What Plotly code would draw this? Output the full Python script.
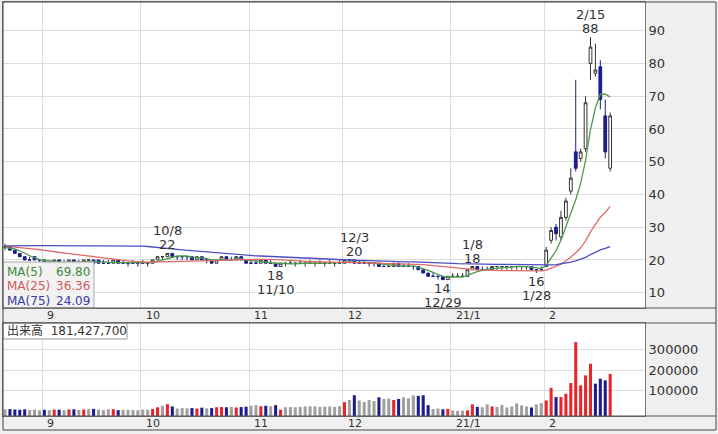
import pandas as pd
import plotly.graph_objects as go

# ---------------- data ----------------
HOLIDAYS = ["2020-09-21", "2020-09-22", "2020-11-03", "2020-11-23",
            "2020-12-31", "2021-01-01", "2021-01-11", "2021-02-11"]
dates = [d for d in pd.bdate_range("2020-08-20", "2021-02-19")
         if d.strftime("%Y-%m-%d") not in HOLIDAYS]

open_ = [24, 24, 23, 22, 21, 20, 21, 20,
         20, 19, 19, 20, 19, 19, 20, 19, 19, 20, 20, 20, 19, 19, 19, 20, 19, 19, 19, 19,
         19, 19, 19, 20, 21, 21, 22, 21, 21, 21, 21, 20, 21, 20, 20, 19, 20, 21, 20, 20, 21, 20,
         19, 19, 19, 20, 19, 19, 18, 19, 19, 19, 19, 19, 19, 19, 19, 19, 19, 19, 19,
         19, 20, 20, 19, 19, 19, 19, 19, 18, 18, 18, 19, 18, 18, 18, 18, 17, 16, 15, 15, 15, 14,
         15, 15, 15, 15, 17, 18, 17, 17, 17, 18, 18, 18, 18, 18, 18, 18, 18, 17, 17,
         18, 26, 30, 27, 33, 41, 53, 51, 54, 80, 77, 79, 64, 48]
high = [25, 24, 23, 22, 21, 21, 21, 20,
        20, 20, 20, 20, 20, 20, 20, 20, 20, 20, 20, 20, 20, 20, 20, 20, 20, 19, 20, 19,
        20, 19, 20, 21, 21, 22, 22, 21, 21, 21, 21, 21, 21, 20, 20, 20, 21, 21, 21, 21, 21, 20,
        20, 20, 20, 20, 20, 19, 19, 19, 20, 19, 20, 19, 20, 19, 20, 19, 20, 19, 20,
        20, 20, 20, 20, 20, 19, 19, 19, 19, 19, 19, 19, 19, 19, 18, 18, 17, 16, 16, 15, 15, 15,
        16, 16, 16, 17, 18, 18, 18, 18, 18, 18, 18, 18, 18, 18, 18, 18, 18, 17, 18,
        24, 30, 31, 35, 39, 48, 75, 54, 70, 88, 86, 81, 69, 65]
low = [23, 23, 22, 21, 20, 20, 20, 19,
       19, 19, 19, 19, 19, 19, 19, 19, 19, 19, 19, 19, 19, 19, 19, 19, 19, 18, 19, 18,
       19, 18, 19, 20, 20, 21, 21, 20, 20, 20, 20, 20, 20, 19, 19, 19, 20, 20, 20, 20, 20, 19,
       19, 19, 19, 19, 19, 18, 18, 18, 19, 18, 19, 18, 19, 18, 19, 18, 19, 18, 19,
       19, 19, 19, 19, 19, 18, 18, 18, 18, 18, 18, 18, 18, 18, 17, 17, 16, 15, 15, 14, 14, 14,
       15, 15, 15, 15, 17, 17, 17, 17, 17, 17, 17, 17, 17, 17, 17, 17, 17, 16, 17,
       18, 25, 26, 26, 32, 40, 47, 50, 53, 75, 76, 66, 51, 47]
close = [24, 23, 22, 21, 20, 20, 20, 20,
         19, 19, 20, 19, 19, 20, 19, 19, 20, 20, 19, 19, 19, 19, 20, 19, 19, 19, 19, 19,
         19, 19, 20, 21, 21, 22, 21, 21, 21, 21, 20, 21, 20, 20, 19, 20, 21, 20, 20, 21, 20, 19,
         19, 19, 20, 19, 19, 18, 19, 19, 19, 19, 19, 19, 19, 19, 19, 19, 19, 19, 19,
         20, 20, 19, 19, 19, 19, 19, 18, 18, 18, 19, 18, 18, 18, 18, 17, 16, 15, 15, 15, 14, 15,
         15, 15, 15, 17, 18, 17, 17, 17, 18, 18, 18, 18, 18, 18, 18, 18, 17, 17, 17,
         23, 29, 28, 33, 38, 45, 48, 53, 68, 85, 78, 69, 53, 64]
# closes before the visible window (needed for the moving averages)
prior_close = [20, 20, 21, 20, 19, 20, 20, 20, 19, 20, 20, 21, 20, 20, 19, 20, 20, 20, 20, 19,
               20, 20, 20, 19, 20, 20, 20, 20,
               26, 28, 30, 32, 33, 34, 33, 32, 31, 32, 31, 30, 31, 30, 29, 30, 29, 28, 29, 28,
               27, 27,
               26, 25, 25, 24, 25, 24, 24, 25, 24, 24, 24, 24, 24, 24, 25, 24, 24, 23, 24, 24,
               24, 23, 24, 24]
# volume in thousands of shares
volume_k = [10000, 11000, 9000, 8000, 10000, 7000, 9000, 5000,
            8000, 6000, 9000, 8000, 6000, 9000, 10000, 7000, 9000, 11000, 12000, 9000, 6000,
            10000, 11000, 6000, 8000, 8000, 7000, 6000,
            9000, 8000, 12000, 20000, 27000, 35000, 24000, 14000, 16000, 15000, 16000, 14000,
            18000, 15000, 16000, 20000, 21000, 20000, 22000, 19000, 21000, 23000,
            28000, 30000, 25000, 27000, 24000, 30000, 8000, 20000, 21000, 20000, 22000, 24000,
            25000, 24000, 22000, 23000, 24000, 22000, 25000,
            45000, 55000, 78000, 53000, 45000, 55000, 50000, 68000, 60000, 62000, 55000, 60000,
            68000, 63000, 77000, 75000, 78000, 30000, 12000, 14000, 10000, 12000,
            5000, 3000, 4000, 5000, 34000, 22000, 20000, 34000, 24000, 22000, 32000, 19000,
            24000, 39000, 29000, 24000, 19000, 34000, 40000,
            53000, 114000, 69000, 69000, 85000, 137000, 335000, 126000, 174000, 230000,
            134000, 158000, 150000, 181427.7]

MONTH_LABELS = ["9", "10", "11", "12", "21/1", "2"]
PRICE_TICKS = [10, 20, 30, 40, 50, 60, 70, 80, 90]
VOLUME_TICKS = [100000, 200000, 300000]
PEAK_MARKS = [("10/8", "high"), ("11/10", "low"), ("12/3", "high"), ("12/29", "low"),
              ("1/8", "high"), ("1/28", "low"), ("2/15", "high")]
MA_PERIODS = [5, 25, 75]

assert len(dates) == len(open_) == len(high) == len(low) == len(close) == len(volume_k), \
    (len(dates), len(open_), len(high), len(low), len(close), len(volume_k))

# ---------------- derived ----------------
n = len(close)
xi = list(range(n))
full = pd.Series(prior_close + close, dtype=float)
ma = {p: full.rolling(p).mean().iloc[-n:].tolist() for p in MA_PERIODS}
MA_COLORS = {5: "#4e9a4e", 25: "#e06a6a", 75: "#4e4ec4"}
MA_TEXT_COLORS = {5: "#3d8a3d", 25: "#d05a5a", 75: "#3a3aa8"}

month_idx = [i for i in range(1, n) if dates[i].month != dates[i - 1].month]
prev = [prior_close[-1]] + close[:-1]
vcolors = ["#e8262a" if c > p else ("#1c1c8c" if c < p else "#a0a0a0")
           for c, p in zip(close, prev)]

VOL_FLOOR = -22200
fig = go.Figure()
fig.add_trace(go.Candlestick(
    x=xi, open=open_, high=high, low=low, close=close, xaxis="x", yaxis="y",
    increasing=dict(line=dict(color="#333333", width=1), fillcolor="#ffffff"),
    decreasing=dict(line=dict(color="#1c1c8c", width=1), fillcolor="#1c1c8c"),
    whiskerwidth=0, hoverinfo="skip"))
for p in MA_PERIODS:
    fig.add_trace(go.Scatter(x=xi, y=ma[p], mode="lines", xaxis="x", yaxis="y",
                             line=dict(color=MA_COLORS[p], width=1.3), hoverinfo="skip"))
fig.add_trace(go.Bar(x=xi, y=[v - VOL_FLOOR for v in volume_k], base=VOL_FLOOR,
                     marker=dict(color=vcolors, line=dict(width=0)),
                     xaxis="x2", yaxis="y2", hoverinfo="skip"))

H, W = 428.0, 713.0
def py(pix):  # pixel y -> paper
    return (430 - pix) / H
def px(pix):
    return (pix - 3) / W

XDOM = [0, px(645)]
grid = "#dcdcdc"
common_x = dict(domain=XDOM, range=[-0.41, 130.08], tickvals=[m - 0.4 for m in month_idx],
                showticklabels=False, showgrid=True, gridcolor=grid, zeroline=False,
                showline=True, mirror=True, linecolor="#777777", ticks="")
fig.update_layout(
    width=718, height=434, margin=dict(l=3, r=2, t=2, b=4),
    paper_bgcolor="#efefef", plot_bgcolor="#ffffff", showlegend=False,
    bargap=0.38, boxgap=0.2, hovermode=False,
    font=dict(family="DejaVu Sans, Noto Sans CJK JP", size=13, color="#333333"),
    xaxis=dict(**common_x, anchor="y", rangeslider=dict(visible=False)),
    xaxis2=dict(**common_x, anchor="y2", matches="x"),
    yaxis=dict(domain=[py(308), py(2)], range=[5.33, 98.76], side="right", anchor="x",
               tickvals=PRICE_TICKS, gridcolor=grid, zeroline=False, showline=True,
               mirror=True, linecolor="#777777", linewidth=1, ticks="",
               tickfont=dict(size=13, color="#333333")),
    yaxis2=dict(domain=[py(416), py(323)], range=[VOL_FLOOR, 427000], side="right",
                anchor="x2", tickvals=VOLUME_TICKS, ticktext=[str(v) for v in VOLUME_TICKS],
                gridcolor=grid, zeroline=False, showline=True, mirror=True,
                linecolor="#777777", ticks="", tickfont=dict(size=13, color="#333333")),
)

shapes = []
# legend box (MA values) and volume label box
shapes.append(dict(type="rect", xref="paper", yref="paper", x0=0, x1=px(94),
                   y0=py(308), y1=py(262), fillcolor="rgba(241,241,241,0.95)",
                   line=dict(color="#aaaaaa", width=1), layer="above"))
shapes.append(dict(type="rect", xref="paper", yref="paper", x0=0, x1=px(127),
                   y0=py(339), y1=py(323), fillcolor="#ffffff",
                   line=dict(color="#999999", width=1), layer="above"))
# strip borders and outer frame
for yy in (308, 323, 416):
    shapes.append(dict(type="line", xref="paper", yref="paper", x0=0, x1=1,
                       y0=py(yy), y1=py(yy), line=dict(color="#555555", width=1),
                       layer="above"))
shapes.append(dict(type="rect", xref="paper", yref="paper", x0=0, x1=1, y0=0, y1=1,
                   line=dict(color="#444444", width=1), layer="above"))

ann = []
# month labels in both strips
for m, lab in zip(month_idx, MONTH_LABELS):
    for xr, yy in (("x", py(315.5)), ("x2", py(423))):
        ann.append(dict(x=m - 0.4, y=yy, xref=xr, yref="paper", text=lab, showarrow=False,
                        xanchor="left", yanchor="middle", xshift=3,
                        font=dict(size=11, color="#333333")))
# high / low marks
labels = [f"{d.month}/{d.day}" for d in dates]
for lab, kind in PEAK_MARKS:
    i = labels.index(lab)
    val = high[i] if kind == "high" else low[i]
    s = 1 if kind == "high" else -1
    ann.append(dict(x=i, y=val, xref="x", yref="y", text=str(val), showarrow=False,
                    yanchor="middle", yshift=s * 8.5, font=dict(size=13, color="#333333")))
    ann.append(dict(x=i, y=val, xref="x", yref="y", text=lab, showarrow=False,
                    yanchor="middle", yshift=s * 22.5, font=dict(size=13, color="#333333")))
# MA legend texts
for p, yy in zip(MA_PERIODS, (272, 286.5, 301)):
    ann.append(dict(x=px(5), y=py(yy), xref="paper", yref="paper", text=f"MA({p})",
                    showarrow=False, xanchor="left", yanchor="middle",
                    font=dict(size=12, color=MA_TEXT_COLORS[p])))
    ann.append(dict(x=px(92), y=py(yy), xref="paper", yref="paper", text=f"{ma[p][-1]:.2f}",
                    showarrow=False, xanchor="right", yanchor="middle",
                    font=dict(size=12, color=MA_TEXT_COLORS[p])))
# volume label
ann.append(dict(x=px(5), y=py(331), xref="paper", yref="paper",
                text="出来高\u00a0\u00a0" + f"{volume_k[-1] * 1000:,.0f}",
                showarrow=False, xanchor="left", yanchor="middle",
                font=dict(size=12, color="#333333")))

fig.update_layout(shapes=shapes, annotations=ann)
fig.write_html("out.html", config={"displayModeBar": False},
               post_script="document.body.style.margin='0';document.body.style.padding='0';")
